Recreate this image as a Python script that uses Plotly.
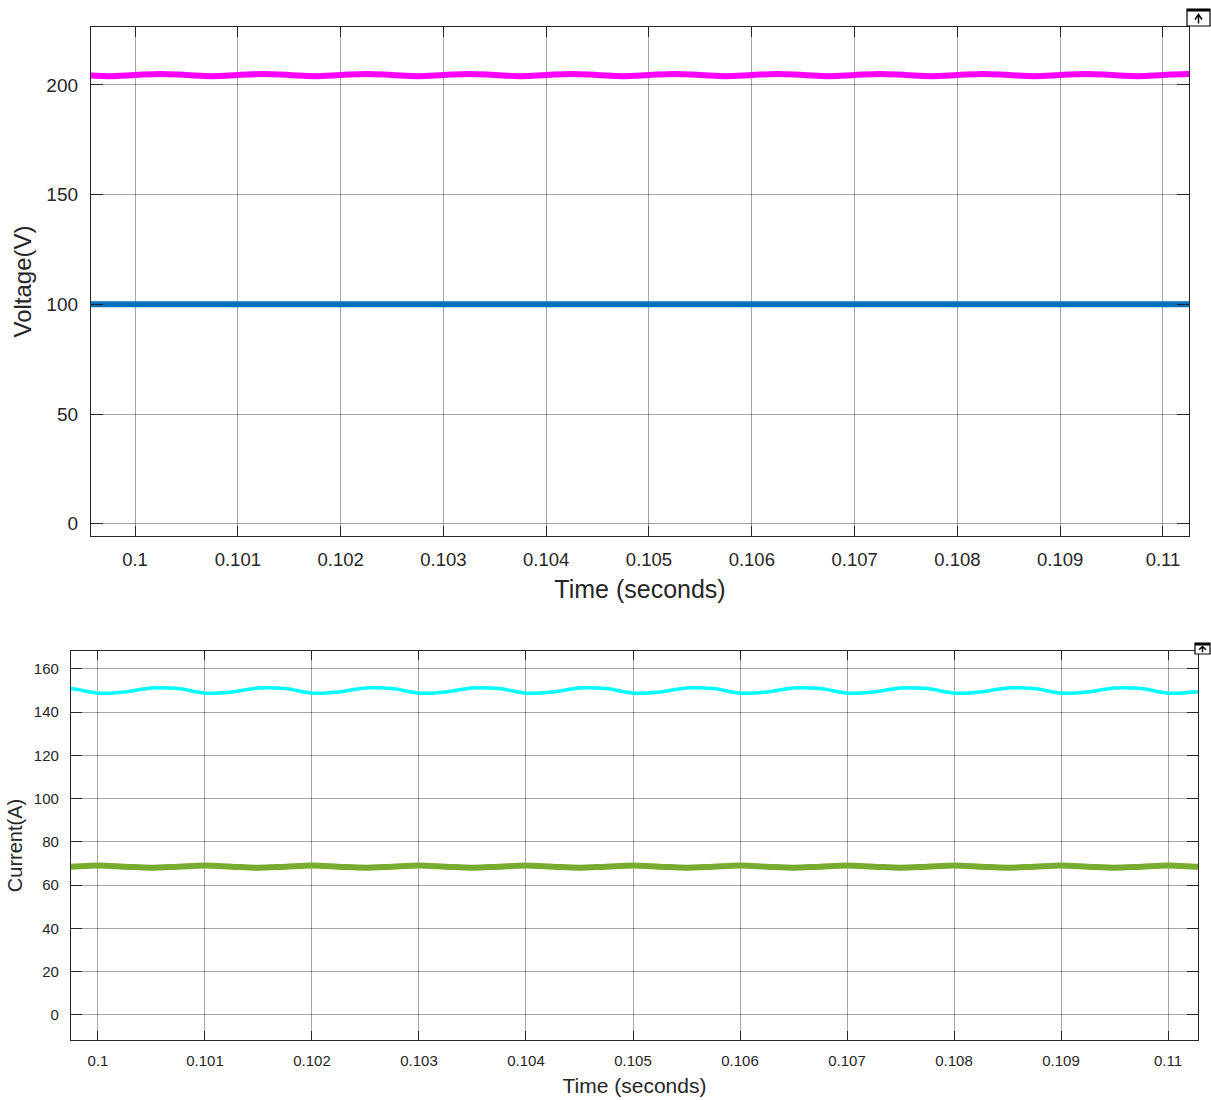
import plotly.graph_objects as go

# ---- data ----
time_s = [0.0995, 0.09975, 0.1, 0.10025, 0.1005, 0.10075, 0.101, 0.10125, 0.1015, 0.10175,
          0.102, 0.10225, 0.1025, 0.10275, 0.103, 0.10325, 0.1035, 0.10375, 0.104, 0.10425,
          0.1045, 0.10475, 0.105, 0.10525, 0.1055, 0.10575, 0.106, 0.10625, 0.1065, 0.10675,
          0.107, 0.10725, 0.1075, 0.10775, 0.108, 0.10825, 0.1085, 0.10875, 0.109, 0.10925,
          0.1095, 0.10975, 0.11, 0.11025, 0.1105]

v_out = [204.5, 204.0, 204.5, 205.0] * 11 + [204.5]          # magenta
v_in = [100.0] * 45                                          # blue
i_cyan = [151.2, 150.9, 148.8, 149.3] * 11 + [151.2]         # cyan
i_green = [68.0, 68.5, 69.0, 68.5] * 11 + [68.0]             # green

x_ticks = [0.1, 0.101, 0.102, 0.103, 0.104, 0.105, 0.106, 0.107, 0.108, 0.109, 0.11]
x_tick_text = ["0.1", "0.101", "0.102", "0.103", "0.104", "0.105", "0.106", "0.107",
               "0.108", "0.109", "0.11"]
v_ticks = [0, 50, 100, 150, 200]
i_ticks = [0, 20, 40, 60, 80, 100, 120, 140, 160]

W, H = 1211, 1100
FONT = "Liberation Sans, Arial, Helvetica, sans-serif"
TXT = "#262626"
GRID = "rgba(0,0,0,0.35)"
AX = "#262626"

fig = go.Figure()
fig.add_trace(go.Scatter(x=time_s, y=v_out, mode="lines", line=dict(color="#FF00FF", width=6, shape="spline"),
                         xaxis="x", yaxis="y", showlegend=False))
fig.add_trace(go.Scatter(x=time_s, y=v_in, mode="lines", line=dict(color="#0072BD", width=6),
                         xaxis="x", yaxis="y", showlegend=False))
fig.add_trace(go.Scatter(x=time_s, y=i_cyan, mode="lines", line=dict(color="#00FFFF", width=3.5, shape="spline"),
                         xaxis="x2", yaxis="y2", showlegend=False))
fig.add_trace(go.Scatter(x=time_s, y=i_green, mode="lines", line=dict(color="#77AC30", width=6, shape="spline"),
                         xaxis="x2", yaxis="y2", showlegend=False))

def dom_x(a, b):
    return [a / W, b / W]

def dom_y(top, bot):
    return [1 - bot / H, 1 - top / H]

common = dict(showline=True, linecolor=AX, linewidth=1.3, mirror="ticks", ticks="inside",
              tickcolor=AX, showgrid=True, gridcolor=GRID, gridwidth=1, zeroline=False)

fig.update_layout(
    width=W, height=H, margin=dict(l=0, r=0, t=0, b=0),
    paper_bgcolor="white", plot_bgcolor="white",
    xaxis=dict(domain=dom_x(91, 1189), anchor="y", range=[0.099572, 0.110253],
               tickvals=x_ticks, ticktext=x_tick_text, ticklen=10,
               ticklabelstandoff=7, tickfont=dict(family=FONT, size=18.5, color=TXT),
               title=dict(text="Time (seconds)", font=dict(family=FONT, size=25, color=TXT), standoff=11),
               **common),
    yaxis=dict(domain=dom_y(27, 536), anchor="x", range=[-5.6, 226.4],
               tickvals=v_ticks, ticklen=12, ticklabelstandoff=8,
               tickfont=dict(family=FONT, size=19, color=TXT),
               title=dict(text="Voltage(V)", font=dict(family=FONT, size=24, color=TXT), standoff=7),
               **common),
    xaxis2=dict(domain=dom_x(71, 1198), anchor="y2", range=[0.099748, 0.11028],
                tickvals=x_ticks, ticktext=x_tick_text, ticklen=9,
                ticklabelstandoff=7, tickfont=dict(family=FONT, size=15, color=TXT),
                title=dict(text="Time (seconds)", font=dict(family=FONT, size=21, color=TXT), standoff=10),
                **common),
    yaxis2=dict(domain=dom_y(651, 1040), anchor="x2", range=[-11.7, 168.3],
                tickvals=i_ticks, ticklen=11, ticklabelstandoff=8,
                tickfont=dict(family=FONT, size=15, color=TXT),
                title=dict(text="Current(A)", font=dict(family=FONT, size=20, color=TXT), standoff=5),
                **common),
)

# small scope "undock" icons in the top-right corners
def icon(x0, y0, x1, y1):
    fig.add_shape(type="rect", xref="paper", yref="paper",
                  x0=x0 / W, x1=x1 / W, y0=1 - y1 / H, y1=1 - y0 / H,
                  line=dict(color="black", width=1.2), fillcolor="white")
    fig.add_shape(type="rect", xref="paper", yref="paper",
                  x0=x0 / W, x1=x1 / W, y0=1 - (y0 + 2.5) / H, y1=1 - y0 / H,
                  line=dict(width=0), fillcolor="black")
    cx = (x0 + x1) / 2
    h = y1 - y0
    path = (f"M {(cx - 3.5) / W},{1 - (y0 + h * 0.62) / H} "
            f"L {cx / W},{1 - (y0 + h * 0.32) / H} "
            f"L {(cx + 3.5) / W},{1 - (y0 + h * 0.62) / H} "
            f"M {cx / W},{1 - (y0 + h * 0.32) / H} L {cx / W},{1 - (y0 + h * 0.85) / H}")
    fig.add_shape(type="path", xref="paper", yref="paper", path=path,
                  line=dict(color="black", width=1.5))

icon(1187, 9, 1210, 26)
icon(1195, 643, 1210, 654)

fig.write_html("out.html", config={"displayModeBar": False},
               post_script="document.body.style.margin='0';document.body.style.overflow='hidden';")
